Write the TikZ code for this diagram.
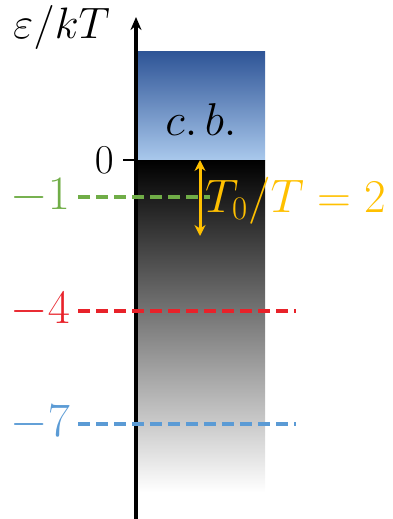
\RequirePackage{fix-cm}
\documentclass[tikz,border=0pt]{standalone}
\usetikzlibrary{arrows.meta}
\definecolor{cbtop}{HTML}{2F5597}
\definecolor{cbbot}{HTML}{A9C8EC}
\definecolor{lgreen}{HTML}{70AD47}
\definecolor{lred}{HTML}{E8222A}
\definecolor{lblue}{HTML}{5B9BD5}
\definecolor{lorange}{HTML}{FFC000}
\tikzset{
  lvl/.style={line width=4.5pt, dash pattern=on 12pt off 6pt},
  lbl/.style={font=\fontsize{48}{52}\selectfont, inner sep=0pt, anchor=base east},
}
\begin{document}
\begin{tikzpicture}[x=1pt,y=-1pt]
\useasboundingbox (0,0) rectangle (392,519);
% bands
\shade[top color=cbtop, bottom color=cbbot] (138,52) rectangle (265,160);
\shade[top color=black, middle color=black!34, bottom color=white] (138,160) rectangle (265,492);
% axis
\coordinate (axb) at (136,519);
\coordinate (axt) at (136,17);
\draw[line width=3.5pt, -{Stealth[length=13pt,width=11pt]}] (axb) -- (axt);
\node[lbl, font=\fontsize{44}{48}\selectfont, anchor=base west] (ylab) at (13,38) {$\varepsilon/kT$};
% zero tick
\coordinate (t0a) at (123,160);
\coordinate (t0b) at (136,160);
\draw[line width=2pt] (t0a) -- (t0b);
\node[lbl, font=\fontsize{41}{44}\selectfont] (l0) at (114,173) {$0$};
\node[lbl, font=\fontsize{46}{50}\selectfont, anchor=base] (cb) at (201,135) {$c.\,b.$};
% levels
\coordinate (g1) at (78,197); \coordinate (g2) at (210,197);
\draw[lvl, lgreen] (g1) -- (g2);
\node[lbl, text=lgreen] (lm1) at (70,209) {$-1$};
\coordinate (r1) at (78,311); \coordinate (r2) at (296,311);
\draw[lvl, lred] (r1) -- (r2);
\node[lbl, text=lred] (lm4) at (70,323) {$-4$};
\coordinate (b1) at (78,424); \coordinate (b2) at (296,424);
\draw[lvl, lblue] (b1) -- (b2);
\node[lbl, text=lblue] (lm7) at (70,436) {$-7$};
% T0/T arrow
\coordinate (oa) at (200,160); \coordinate (ob) at (200,236);
\draw[lorange, line width=3pt, {Stealth[length=11pt,width=11pt]}-{Stealth[length=11pt,width=11pt]}] (oa) -- (ob);
\node[lbl, text=lorange, font=\fontsize{47}{50}\selectfont, anchor=base west] (tt) at (205,212) {$T_0/T = 2$};
\end{tikzpicture}
\end{document}
